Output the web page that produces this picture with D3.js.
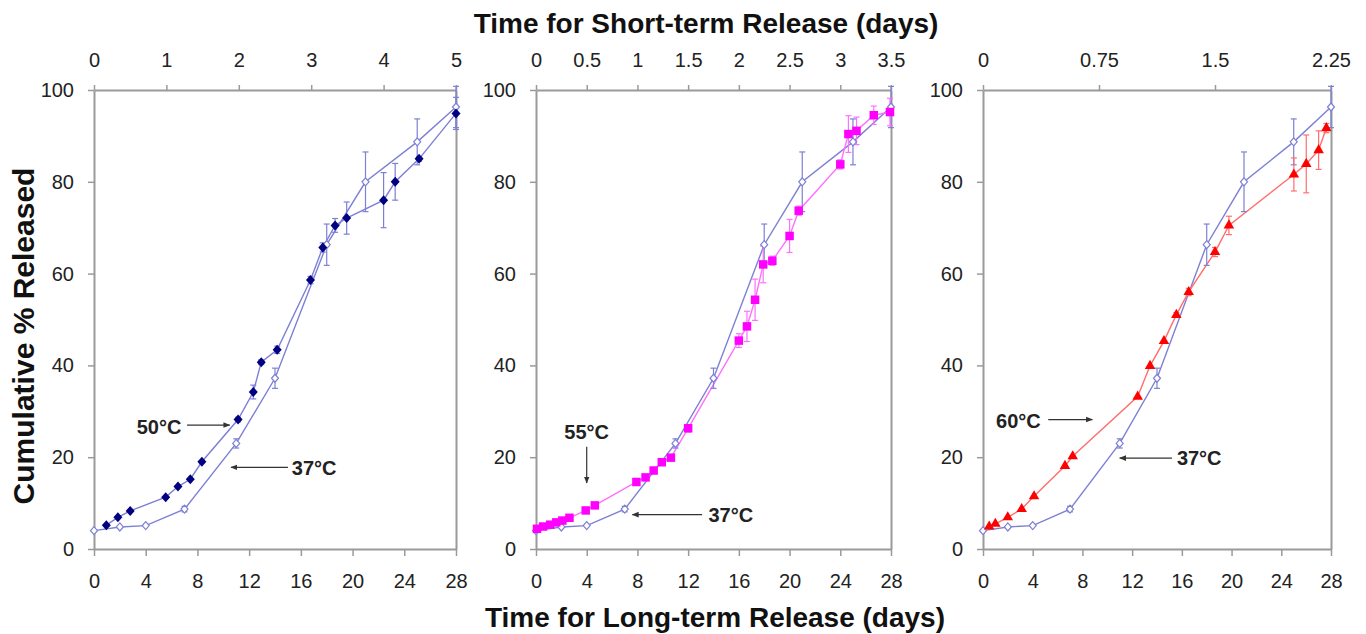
<!DOCTYPE html>
<html>
<head>
<meta charset="utf-8">
<script src="https://cdn.jsdelivr.net/npm/d3@7"></script>
<style>
body{margin:0;background:#fff;}
text{font-family:Arial,"Liberation Sans",sans-serif;}
</style>
</head>
<body>
<svg id="chart" width="1366" height="634"></svg>
<script>
// 37°C release, long-term days (same curve in all 3 panels)
var days37 = [0, 2, 4, 7, 11, 14, 18, 21, 25, 28];
var rel37  = [4.0, 4.8, 5.1, 8.7, 23.0, 37.2, 66.3, 80.0, 88.7, 96.3];
var err37  = [0.4, 0.4, 0.4, 0.6, 1.0, 2.2, 4.5, 6.5, 5.0, 4.5];

// 50°C, short-term days
var days50 = [0.17, 0.33, 0.50, 0.99, 1.16, 1.33, 1.49, 1.99, 2.20, 2.31, 2.53, 2.99, 3.16, 3.33, 3.49, 4.00, 4.16, 4.49, 5.00];
var rel50  = [5.2, 6.9, 8.3, 11.3, 13.6, 15.2, 19.0, 28.2, 34.2, 40.7, 43.4, 58.6, 65.7, 70.5, 72.1, 76.0, 80.0, 85.0, 94.9];
var err50  = [0, 0, 0, 0, 0, 0, 0, 0.5, 1.5, 0.5, 0.8, 0.8, 1.0, 1.5, 3.5, 6.0, 4.0, 0.5, 3.5];

// 55°C
var days55 = [0.01, 0.07, 0.14, 0.20, 0.26, 0.33, 0.49, 0.58, 0.99, 1.08, 1.16, 1.24, 1.33, 1.50, 2.00, 2.08, 2.16, 2.24, 2.33, 2.50, 2.59, 3.00, 3.08, 3.16, 3.33, 3.49];
var rel55  = [4.4, 4.9, 5.3, 5.8, 6.2, 6.8, 8.4, 9.5, 14.6, 15.6, 17.1, 18.9, 19.9, 26.3, 45.4, 48.5, 54.3, 62.0, 62.8, 68.2, 73.7, 83.8, 90.4, 91.1, 94.5, 95.2];
var err55  = [0, 0, 0, 0, 0, 0, 0, 0, 0.5, 0.5, 0.5, 0.6, 0.6, 0.8, 1.5, 3.3, 4.5, 4.0, 1.0, 3.6, 1.0, 1.0, 4.0, 3.0, 2.0, 3.0];

// 60°C
var days60 = [0.04, 0.08, 0.16, 0.25, 0.33, 0.53, 0.58, 1.00, 1.08, 1.17, 1.25, 1.33, 1.50, 1.59, 2.01, 2.09, 2.17, 2.22];
var rel60  = [4.9, 5.5, 6.9, 8.7, 11.5, 18.1, 20.2, 33.2, 39.9, 45.3, 51.0, 56.0, 64.7, 70.5, 81.6, 83.9, 86.9, 91.7];
var err60  = [0, 0, 0, 0, 0, 0, 0, 0, 0, 0, 0.5, 0.8, 1.0, 2.0, 3.6, 6.3, 4.2, 1.0];

// axes
var longTicks = [0, 4, 8, 12, 16, 20, 24, 28];
var yTicks = [0, 20, 40, 60, 80, 100];
var shortTicks1 = [0, 1, 2, 3, 4, 5];
var shortLabels1 = ["0", "1", "2", "3", "4", "5"];
var shortTicks2 = [0, 0.5, 1, 1.5, 2, 2.5, 3, 3.5];
var shortLabels2 = ["0", "0.5", "1", "1.5", "2", "2.5", "3", "3.5"];
var shortTicks3 = [0, 0.75, 1.5, 2.25];
var shortLabels3 = ["0", "0.75", "1.5", "2.25"];

// labels/arrows in long-term data units: [text, tx, ty, anchor, x1, y1, x2, y2]
var notes1 = [["50°C", 3.3, 26.7, "start", 7.2, 27, 10.5, 27], ["37°C", 15.3, 17.7, "start", 15.0, 17.8, 10.6, 17.8]];
var notes2 = [["55°C", 4.0, 25.6, "middle", 4.0, 22.3, 4.0, 14.4], ["37°C", 13.6, 7.5, "start", 13.1, 7.5, 7.6, 7.5]];
var notes3 = [["60°C", 1.05, 28.0, "start", 5.25, 28.2, 8.8, 28.2], ["37°C", 15.6, 19.8, "start", 15.2, 19.8, 11.0, 19.8]];

function zip(xs, ys, es){
	return xs.map(function(x, i){ return {x: x, y: ys[i], e: es[i]}; });
}

var panels = [
	{left:94,  right:456,  shortMax:5,    ticks:shortTicks1, labels:shortLabels1, hot:zip(days50, rel50, err50), shape:"diamond", color:"#000080", line:"#7d7fd6", notes:notes1},
	{left:536, right:891,  shortMax:3.5,  ticks:shortTicks2, labels:shortLabels2, hot:zip(days55, rel55, err55), shape:"square",  color:"#ff00ff", line:"#ff70ff", notes:notes2},
	{left:983, right:1331, shortMax:2.25, ticks:shortTicks3, labels:shortLabels3, hot:zip(days60, rel60, err60), shape:"triangle", color:"#ff0000", line:"#ff6e6e", notes:notes3}
];
var plotTop = 90, plotBottom = 549;
var axisColor = "#9a9a9a";
var c37 = "#7d80d4";

var svg = d3.select("#chart");

svg.append("defs").append("marker")
	.attr("id", "arrow")
	.attr("viewBox", "0 0 10 10")
	.attr("refX", 9).attr("refY", 5)
	.attr("markerWidth", 7).attr("markerHeight", 7)
	.attr("markerUnits", "userSpaceOnUse")
	.attr("orient", "auto")
	.append("path")
	.attr("d", "M0,1L10,5L0,9Z")
	.attr("fill", "#333");

var diamondPath = "M0,-5L4.5,0L0,5L-4.5,0Z";

function symbolPath(shape){
	if(shape == "square") return d3.symbol().type(d3.symbolSquare).size(72)();
	if(shape == "triangle") return d3.symbol().type(d3.symbolTriangle).size(48)();
	return diamondPath;
}

panels.forEach(function(p){
	var xLong = d3.scaleLinear().domain([0, 28]).range([p.left, p.right]);
	var xShort = d3.scaleLinear().domain([0, p.shortMax]).range([p.left, p.right]);
	var y = d3.scaleLinear().domain([0, 100]).range([plotBottom, plotTop]);

	var g = svg.append("g");

	// bottom axis
	var ax = g.append("g").attr("transform", "translate(0," + plotBottom + ")")
		.call(d3.axisBottom(xLong).tickValues(longTicks).tickSize(7).tickPadding(18).tickSizeOuter(0));
	// top axis
	var at = g.append("g").attr("transform", "translate(0," + plotTop + ")")
		.call(d3.axisTop(xShort).tickValues(p.ticks).tickSize(5).tickPadding(18).tickSizeOuter(0)
			.tickFormat(function(d, i){ return p.labels[i]; }));
	// left axis
	var al = g.append("g").attr("transform", "translate(" + p.left + ",0)")
		.call(d3.axisLeft(y).tickValues(yTicks).tickSize(6).tickPadding(14).tickSizeOuter(0));
	// right side of the frame
	var ar = g.append("g").attr("transform", "translate(" + p.right + ",0)")
		.call(d3.axisRight(y).tickValues([]).tickSizeOuter(0));

	[ax, at, al, ar].forEach(function(a){
		a.select(".domain").attr("stroke", axisColor).attr("stroke-width", 2);
		a.selectAll(".tick line").attr("stroke", axisColor).attr("stroke-width", 1.5);
		a.selectAll(".tick text").attr("fill", "#222").style("font-size", "20px")
			.style("font-family", "Arial,'Liberation Sans',sans-serif");
	});

	// 37°C curve
	var d37 = zip(days37, rel37, err37);
	var line37 = d3.line().x(function(d){ return xLong(d.x); }).y(function(d){ return y(d.y); });
	g.append("path").datum(d37)
		.attr("d", line37)
		.attr("fill", "none").attr("stroke", c37).attr("stroke-width", 1.4);

	// hot curve
	var lineHot = d3.line().x(function(d){ return xShort(d.x); }).y(function(d){ return y(d.y); });
	g.append("path").datum(p.hot)
		.attr("d", lineHot)
		.attr("fill", "none").attr("stroke", p.line).attr("stroke-width", 1.4);

	// error bars
	function bars(data, xs, color){
		var eb = g.selectAll(null).data(data.filter(function(d){ return d.e > 0.4; })).enter().append("g")
			.attr("stroke", color).attr("stroke-width", 1.2);
		eb.append("line")
			.attr("x1", function(d){ return xs(d.x); }).attr("x2", function(d){ return xs(d.x); })
			.attr("y1", function(d){ return y(d.y - d.e); }).attr("y2", function(d){ return y(d.y + d.e); });
		eb.append("line")
			.attr("x1", function(d){ return xs(d.x) - 3; }).attr("x2", function(d){ return xs(d.x) + 3; })
			.attr("y1", function(d){ return y(d.y + d.e); }).attr("y2", function(d){ return y(d.y + d.e); });
		eb.append("line")
			.attr("x1", function(d){ return xs(d.x) - 3; }).attr("x2", function(d){ return xs(d.x) + 3; })
			.attr("y1", function(d){ return y(d.y - d.e); }).attr("y2", function(d){ return y(d.y - d.e); });
	}
	bars(d37, xLong, c37);
	bars(p.hot, xShort, p.line);

	// markers
	g.selectAll(null).data(d37).enter().append("path")
		.attr("d", "M0,-4L3.5,0L0,4L-3.5,0Z")
		.attr("transform", function(d){ return "translate(" + xLong(d.x) + "," + y(d.y) + ")"; })
		.attr("fill", "#fff").attr("stroke", c37).attr("stroke-width", 1.2);

	g.selectAll(null).data(p.hot).enter().append("path")
		.attr("d", symbolPath(p.shape))
		.attr("transform", function(d){ return "translate(" + xShort(d.x) + "," + y(d.y) + ")"; })
		.attr("fill", p.color);

	// temperature labels
	p.notes.forEach(function(n){
		g.append("text")
			.attr("x", xLong(n[1])).attr("y", y(n[2]))
			.attr("dy", "0.36em")
			.attr("text-anchor", n[3])
			.style("font-size", "20px").style("font-weight", "bold").attr("fill", "#222")
			.text(n[0]);
		g.append("line")
			.attr("x1", xLong(n[4])).attr("y1", y(n[5]))
			.attr("x2", xLong(n[6])).attr("y2", y(n[7]))
			.attr("stroke", "#333").attr("stroke-width", 1.2)
			.attr("marker-end", "url(#arrow)");
	});
});

// titles
svg.append("text")
	.attr("x", 706).attr("y", 33)
	.attr("text-anchor", "middle")
	.style("font-size", "28px").style("font-weight", "bold").attr("fill", "#111")
	.text("Time for Short-term Release (days)");

svg.append("text")
	.attr("x", 715).attr("y", 627)
	.attr("text-anchor", "middle")
	.style("font-size", "28px").style("font-weight", "bold").attr("fill", "#111")
	.text("Time for Long-term Release (days)");

svg.append("text")
	.attr("transform", "translate(34,336) rotate(-90)")
	.attr("text-anchor", "middle")
	.style("font-size", "30px").style("font-weight", "bold").attr("fill", "#111")
	.text("Cumulative % Released");
</script>
</body>
</html>
